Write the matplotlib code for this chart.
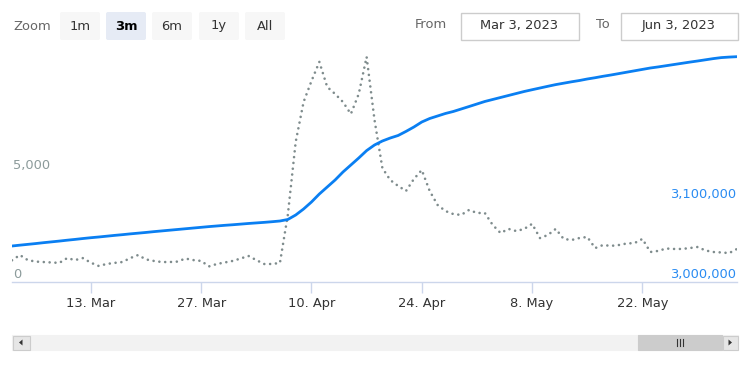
"""Highcharts-style stock chart: daily activity (dotted) vs running total (blue)."""

import matplotlib
matplotlib.use("Agg")
import matplotlib.pyplot as plt
import pandas as pd
from matplotlib.patches import FancyBboxPatch, Rectangle, Polygon
from matplotlib.transforms import blended_transform_factory, offset_copy

START = "2023-03-03"
END = "2023-06-03"

# dotted series, left axis (one value per day)
activity = [
    950, 1190, 960, 890, 870, 850, 830, 1050, 960, 1050,
    840, 690, 780, 830, 870, 1050, 1190, 990, 920, 870,
    870, 890, 1030, 960, 920, 670, 780, 850, 920, 1030,
    1150, 960, 780, 780, 830, 3030, 6380, 8210, 9170, 10050,
    8900, 8580, 8210, 7660, 8580, 10280, 7390, 5180, 4630, 4360,
    4130, 4680, 5090, 4130, 3490, 3210, 3070, 3030, 3260, 3120,
    3120, 2570, 2200, 2390, 2290, 2390, 2620, 1970, 2110, 2390,
    1930, 1880, 1970, 2020, 1510, 1650, 1610, 1650, 1720, 1740,
    1930, 1330, 1380, 1490, 1470, 1470, 1510, 1560, 1400, 1330,
    1310, 1280, 1470,
]

# blue series, right axis (one value per day)
total = [
    3043750, 3044800, 3045800, 3046800, 3047900, 3048900, 3049900, 3051000, 3052000, 3053100,
    3054100, 3055000, 3056000, 3057000, 3057900, 3058900, 3059800, 3060700, 3061700, 3062600,
    3063500, 3064400, 3065300, 3066200, 3067100, 3068000, 3068800, 3069600, 3070300, 3071100,
    3071900, 3072600, 3073300, 3074100, 3075000, 3076900, 3082500, 3090000, 3098750, 3108750,
    3117500, 3126250, 3136250, 3145000, 3153750, 3163000, 3170000, 3175000, 3178750, 3181900,
    3187000, 3192500, 3198750, 3203100, 3206250, 3209400, 3211900, 3215000, 3218100, 3221250,
    3224400, 3226900, 3229400, 3231900, 3234400, 3236900, 3239100, 3241250, 3243400, 3245500,
    3247250, 3249000, 3250600, 3252500, 3254100, 3255900, 3257500, 3259250, 3261000, 3262750,
    3264500, 3266250, 3267600, 3269100, 3270600, 3272100, 3273600, 3275000, 3276500, 3278000,
    3279250, 3279900, 3280400,
]

tick_dates = ["2023-03-13", "2023-03-27", "2023-04-10", "2023-04-24", "2023-05-08", "2023-05-22"]
tick_labels = ["13. Mar", "27. Mar", "10. Apr", "24. Apr", "8. May", "22. May"]
left_labels = [0, 5000]
right_labels = [3000000, 3100000]
range_buttons = ["1m", "3m", "6m", "1y", "All"]
selected_button = "3m"
from_text = "Mar 3, 2023"
to_text = "Jun 3, 2023"

GRAY = "#7f8c8d"
BLUE = "#0a7ff2"
AXIS = "#ccd6eb"
FS = 9.4

plt.rcParams["font.family"] = ["DejaVu Sans"]

W, H = 750, 375
fig = plt.figure(figsize=(W / 100, H / 100), dpi=100)

# overlay in pixel coordinates for the Highcharts UI widgets
ui = fig.add_axes([0, 0, 1, 1], zorder=0)
ui.set_xlim(0, W)
ui.set_ylim(H, 0)
ui.axis("off")

# main plot
ax = fig.add_axes([12 / W, (H - 282) / H, 725 / W, 237 / H], zorder=1)
ax.patch.set_alpha(0)
dates = pd.date_range(START, END, freq="D")
ax.plot(dates, activity, color=GRAY, lw=1.9, ls=(0, (0.01, 2.2)),
        dash_capstyle="round", solid_joinstyle="round")
ax.set_xlim(dates[0], dates[-1])
ax.set_ylim(-46, 10825)

ax2 = ax.twinx()
ax2.plot(dates, total, color=BLUE, lw=2.0, solid_capstyle="round",
         solid_joinstyle="round")
ax2.set_ylim(2998750, 3295000)

for a in (ax, ax2):
    for side in ("top", "right", "left"):
        a.spines[side].set_visible(False)
    a.set_yticks([])
ax2.spines["bottom"].set_visible(False)
ax.spines["bottom"].set_color(AXIS)
ax.spines["bottom"].set_linewidth(1)

ax.set_xticks(pd.to_datetime(tick_dates))
ax.set_xticklabels(tick_labels)
ax.tick_params(axis="x", length=8, width=1, color=AXIS, pad=2.5,
               labelsize=FS, labelcolor="#333333")

ltrans = offset_copy(blended_transform_factory(ax.transAxes, ax.transData),
                     fig=fig, x=1, y=3, units="dots")
for v in left_labels:
    ax.text(0, v, f"{v:,}", transform=ltrans, ha="left", va="baseline",
            fontsize=FS, color="#8c9b9b")
rtrans = offset_copy(blended_transform_factory(ax2.transAxes, ax2.transData),
                     fig=fig, x=-1, y=3, units="dots")
for v in right_labels:
    ax2.text(1, v, f"{v:,}", transform=rtrans, ha="right", va="baseline",
             fontsize=FS, color="#2a8cf2")

# range selector
ui.text(13, 26, "Zoom", fontsize=FS, color="#666666", va="center", ha="left")
bx = [60, 106, 152, 199, 245]
for x0, label in zip(bx, range_buttons):
    sel = label == selected_button
    ui.add_patch(FancyBboxPatch((x0, 12), 40, 28, boxstyle="round,pad=0,rounding_size=2",
                                fc="#e6ebf5" if sel else "#f7f7f7", ec="none"))
    ui.text(x0 + 20, 26, label, fontsize=FS, color="#000000" if sel else "#333333",
            ha="center", va="center", fontweight="bold" if sel else "normal")

ui.text(447, 24, "From", fontsize=FS, color="#666666", ha="right", va="center")
ui.add_patch(Rectangle((460.5, 12.5), 118, 27, fc="white", ec="#cccccc", lw=1))
ui.text(519.5, 25, from_text, fontsize=FS, color="#333333", ha="center", va="center")
ui.text(610, 24, "To", fontsize=FS, color="#666666", ha="right", va="center")
ui.add_patch(Rectangle((620.5, 12.5), 117, 27, fc="white", ec="#cccccc", lw=1))
ui.text(679, 25, to_text, fontsize=FS, color="#333333", ha="center", va="center")

# scrollbar
ui.add_patch(Rectangle((12, 335), 726, 15, fc="#f2f2f2", ec="#f2f2f2", lw=0.8))
ui.add_patch(Rectangle((12.5, 335.5), 17, 14, fc="#e6e6e6", ec="#cccccc", lw=0.8))
ui.add_patch(Polygon([(22.5, 339.5), (22.5, 345.5), (19, 342.5)], closed=True, fc="#333333"))
ui.add_patch(Rectangle((638, 335), 84, 15, fc="#cccccc", ec="#cccccc", lw=0.8))
for gx in (677, 680, 683):
    ui.plot([gx, gx], [339, 346], color="#333333", lw=0.8)
ui.add_patch(Rectangle((722.5, 335.5), 15, 14, fc="#e6e6e6", ec="#cccccc", lw=0.8))
ui.add_patch(Polygon([(728.5, 339.5), (728.5, 345.5), (732, 342.5)], closed=True, fc="#333333"))

fig.savefig("out.png", dpi=100)
